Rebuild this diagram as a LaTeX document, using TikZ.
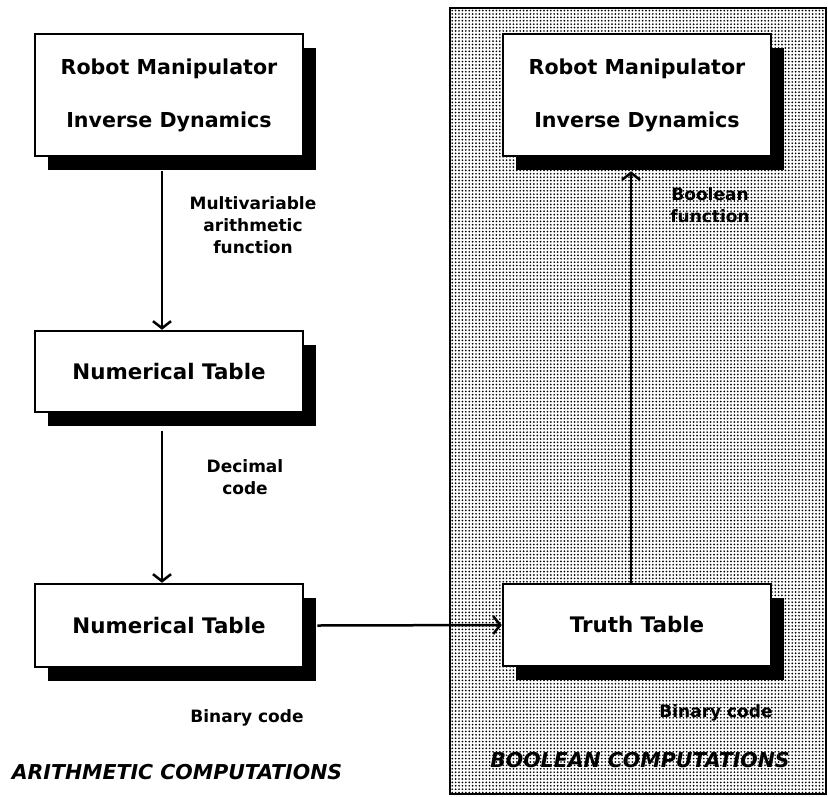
\documentclass[tikz,border=0pt]{standalone}
\usepackage{fontspec}
\setmainfont{DejaVu Sans}
\usetikzlibrary{arrows.meta,patterns.meta,shadows}
\tikzset{
  boxnode/.style={draw=black, line width=2.5pt, fill=white, minimum width=268pt,
    inner sep=0pt, align=center,
    general shadow={fill=black, shadow xshift=13pt, shadow yshift=-14pt}},
  boxfont/.style={font=\bfseries\fontsize{20.6}{53}\selectfont},
  tabfont/.style={font=\bfseries\fontsize{21.4}{26}\selectfont},
  lbl/.style={align=center, font=\bfseries\fontsize{17}{22}\selectfont, inner sep=0pt},
  ttl/.style={font=\bfseries\itshape\fontsize{20.5}{24}\selectfont, inner sep=0pt},
  arr/.style={line width=2.5pt, -{Straight Barb[length=7pt,width=18pt,line width=2.5pt]}},
  stipple/.style={draw=black, line width=2.5pt, pattern={Dots[radius=0.95pt, distance=3.4pt]}, pattern color=black}
}
\begin{document}
\begin{tikzpicture}[x=1pt,y=-1pt]
\useasboundingbox (0,0) rectangle (828,796);
\path[stipple] (450,8) rectangle (826,794);
\node[boxnode, boxfont, minimum height=122pt] (rm1) at (169,95) {Robot Manipulator\\Inverse Dynamics};
\node[boxnode, tabfont, minimum height=81pt] (nt1) at (169,371.5) {Numerical Table};
\node[boxnode, tabfont, minimum height=83pt] (nt2) at (169,625.5) {Numerical Table};
\node[boxnode, boxfont, minimum height=122pt] (rm2) at (637,95) {Robot Manipulator\\Inverse Dynamics};
\node[boxnode, tabfont, minimum height=82pt] (tt) at (637,625) {Truth Table};
\draw[arr] ([shift={(-7pt,-14pt)}]rm1.south) -- ([xshift=-7pt]nt1.north);
\draw[arr] ([shift={(-7pt,-18pt)}]nt1.south) -- ([xshift=-7pt]nt2.north);
\draw[arr] ([xshift=13pt]nt2.east) -- (tt.west);
\draw[arr] ([xshift=-6pt]tt.north) -- ([shift={(-6pt,-14pt)}]rm2.south);
\node[lbl] (l1) at (253,225) {Multivariable\\arithmetic\\function};
\node[lbl] (l2) at (245,477) {Decimal\\code};
\node[lbl] (l3) at (710,205) {Boolean\\function};
\node[lbl] (l4) at (247,718) {Binary code};
\node[lbl] (l5) at (716,713) {Binary code};
\node[ttl] (t1) at (177,772) {ARITHMETIC COMPUTATIONS};
\node[ttl] (t2) at (640,760) {BOOLEAN COMPUTATIONS};
\end{tikzpicture}
\end{document}
